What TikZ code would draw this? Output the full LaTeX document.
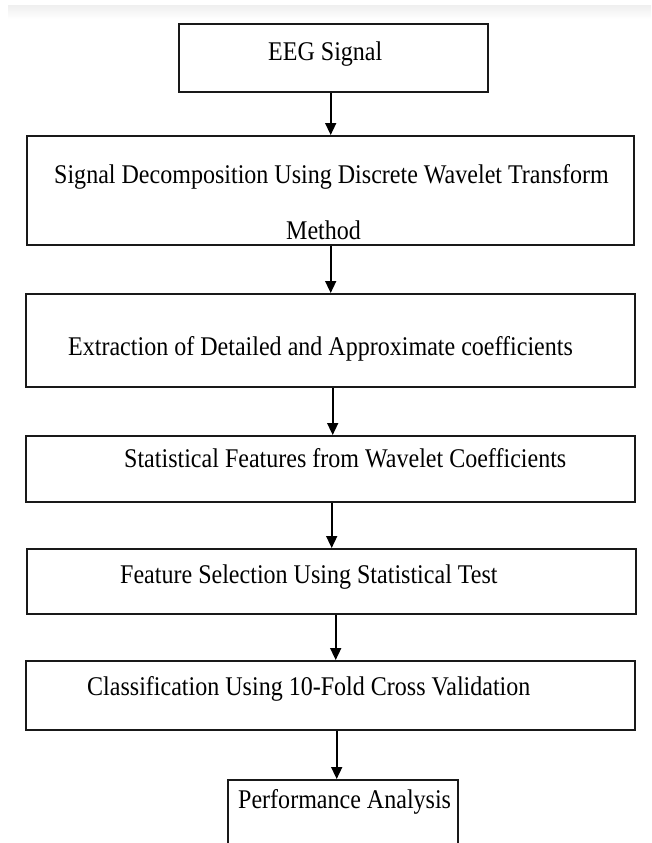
\documentclass[tikz,border=0pt]{standalone}
\usepackage{fontspec}
\setmainfont{Liberation Serif}[FakeStretch=0.89]
\usetikzlibrary{arrows.meta}

\begin{document}
\begin{tikzpicture}[x=1pt, y=-1pt,
  stepbox/.style={draw=black!90, line width=2.4pt, rectangle, anchor=north west, inner sep=0pt},
  lbl/.style={anchor=base west, inner sep=0pt, font=\fontsize{27}{30}\selectfont},
  arr/.style={-{Triangle[length=12pt, width=11pt]}, line width=1.6pt, black}
]
\useasboundingbox (0,0) rectangle (651,843);
\clip (0,0) rectangle (651,843);

% faint strip along the top edge
\shade[top color=black!6, bottom color=white] (8,6) rectangle (651,19);

% boxes
\node[stepbox, minimum width=309pt, minimum height=68pt]  (eeg)  at (178,23)  {};
\node[stepbox, minimum width=607pt, minimum height=109pt] (dwt)  at (26,135)  {};
\node[stepbox, minimum width=609pt, minimum height=93pt]  (ext)  at (25,293)  {};
\node[stepbox, minimum width=609pt, minimum height=66pt]  (feat) at (25,435)  {};
\node[stepbox, minimum width=609pt, minimum height=65pt]  (sel)  at (26,548)  {};
\node[stepbox, minimum width=609pt, minimum height=69pt]  (cls)  at (25,660)  {};
\node[stepbox, minimum width=230pt, minimum height=90pt]  (perf) at (227,779) {};

% labels
\node[lbl] (eegtxt)  at (268,60)  {EEG Signal};
\node[lbl] (dwttxtb) at (286,239) {Method};
\node[lbl] (dwttxt)  at (54,183)  {Signal Decomposition Using Discrete Wavelet Transform};
\node[lbl] (exttxt)  at (68,355)  {Extraction of Detailed and Approximate coefficients};
\node[lbl] (feattxt) at (124,467) {Statistical Features from Wavelet Coefficients};
\node[lbl] (seltxt)  at (120,583) {Feature Selection Using Statistical Test};
\node[lbl] (clstxt)  at (87,695)  {Classification Using 10-Fold Cross Validation};
\node[lbl] (perftxt) at (238,808) {Performance Analysis};

% arrows
\draw[arr] (dwt.north |- eeg.south) -- (dwt.north);
\draw[arr] (dwt.south) -- (dwt.south |- ext.north);
\draw[arr] ([xshift=2pt]ext.south) -- ([xshift=2pt]ext.south |- feat.north);
\draw[arr] ([xshift=1pt]feat.south) -- ([xshift=1pt]feat.south |- sel.north);
\draw[arr] ([xshift=4pt]sel.south) -- ([xshift=4pt]sel.south |- cls.north);
\draw[arr] ([xshift=6pt]cls.south) -- ([xshift=6pt]cls.south |- perf.north);
\end{tikzpicture}
\end{document}
